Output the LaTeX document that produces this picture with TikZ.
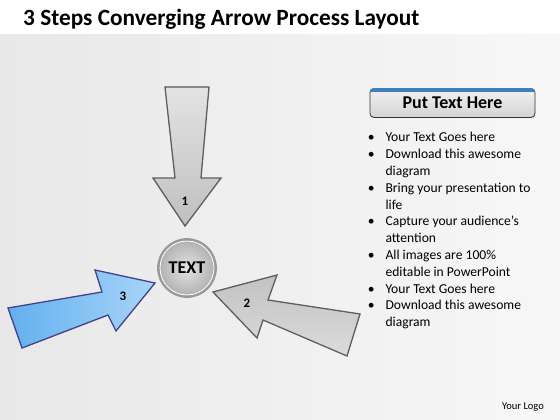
\documentclass[tikz,border=0pt]{standalone}
\usepackage{fontspec}
\setmainfont{Carlito}
\usepackage{tikz}
\usetikzlibrary{positioning}
\usetikzlibrary{calc}

\definecolor{edgegray}{HTML}{5E5E5E}
\definecolor{bluelight}{HTML}{A8D4F8}
\definecolor{bluedark}{HTML}{62B0EE}
\definecolor{stripblue}{HTML}{3D7FC1}

\tikzstyle{grayarrow}=[draw=edgegray,line width=1.3pt,line join=miter,top color=gray!22,bottom color=gray!50]
\tikzstyle{bluearrow}=[draw=edgegray!70!blue,line width=1.3pt,line join=miter,left color=bluedark,right color=bluelight]
\tikzstyle{steplabel}=[font=\bfseries\fontsize{13}{13}\selectfont,inner sep=1pt]
\tikzstyle{hub}=[circle,minimum size=57pt,draw=gray!80,line width=2.8pt,inner color=gray!22,outer color=gray!62,font=\bfseries\fontsize{18}{18}\selectfont]

\begin{document}
\begin{tikzpicture}[x=1pt,y=-1pt]
\useasboundingbox (0,0) rectangle (560,420);
\fill[white] (0,0) rectangle (560,35);
\shade[left color=black!9,right color=black!3] (0,35) rectangle (560,420);

\node[anchor=base west,inner sep=0,font=\bfseries\fontsize{23.3}{23.3}\selectfont] (title) at (23,26) {3 Steps Converging Arrow Process Layout};

% the three arrows
\filldraw[grayarrow] (165,87) -- (209,87) -- (201,178) -- (221,178) -- (185,226) -- (153,178) -- (175,178) -- cycle;
\filldraw[grayarrow,top color=gray!48,bottom color=gray!28] (213,292) -- (277,275) -- (268,300) -- (360,314) -- (347,356) -- (263,320) -- (257,338) -- cycle;
\filldraw[bluearrow] (155,283) -- (95,270) -- (102,292) -- (8,308) -- (22,348) -- (108,315) -- (116,331) -- cycle;

\node[steplabel] (n1) at (185,201) {1};
\node[steplabel] (n2) at (247,303) {2};
\node[steplabel] (n3) at (123,296) {3};

% centre
\node[hub] (hub) at (187,268) {TEXT};
\draw[white,line width=0.8pt] (hub.center) circle (27);

% right hand text
\node[minimum width=165pt,minimum height=29pt,rounded corners=4pt,draw=gray!40!black,line width=0.8pt,
  top color=gray!10,bottom color=gray!35,font=\bfseries\fontsize{18}{18}\selectfont] (head) at (452.5,103) {Put Text Here};
\begin{scope}
\clip[rounded corners=4pt] (head.north west) rectangle (head.south east);
\fill[stripblue] (head.north west) rectangle ([yshift=-3.5pt]head.north east);
\end{scope}

\node[below right=12pt and -2pt of head.south west,inner sep=0,font=\fontsize{13.6}{16.8}\selectfont] (list) {%
\begin{tabular}{@{}l@{\hspace{11pt}}l@{}}
\textbullet & Your Text Goes here\\
\textbullet & Download this awesome\\
 & diagram\\
\textbullet & Bring your presentation to\\
 & life\\
\textbullet & Capture your audience’s\\
 & attention\\
\textbullet & All images are 100\%\\
 & editable in PowerPoint\\
\textbullet & Your Text Goes here\\
\textbullet & Download this awesome\\
 & diagram
\end{tabular}};

\node[font=\fontsize{10.5}{10.5}\selectfont] (logo) at (523,407) {Your Logo};
\end{tikzpicture}
\end{document}
